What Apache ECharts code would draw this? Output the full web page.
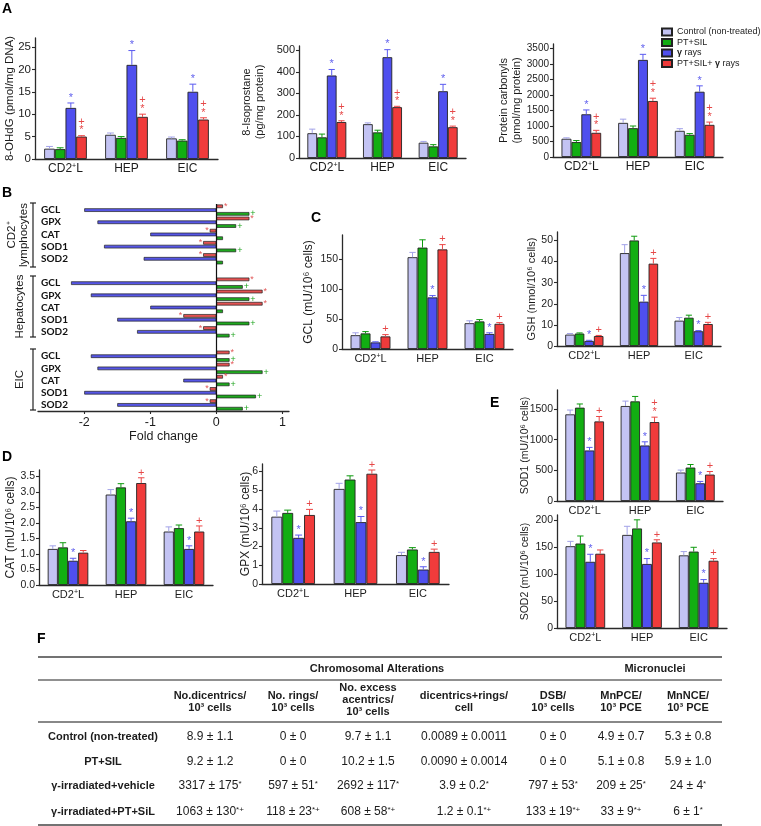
<!DOCTYPE html>
<html>
<head>
<meta charset="UTF-8">
<title>Oxidative damage, antioxidant enzymes and chromosomal alterations</title>
<script src="https://cdn.jsdelivr.net/npm/echarts@6/dist/echarts.min.js"></script>
<style>
html, body { margin: 0; padding: 0; background: #fff; }
#main { width: 761px; height: 826px; }
</style>
</head>
<body>
<div id="main"></div>
<script>
// ---------- data ----------
var groups = ['CD2+L', 'HEP', 'EIC'];
var seriesNames = ['Control (non-treated)', 'PT+SIL', 'γ rays', 'PT+SIL+ γ rays'];

// A: 8-OHdG (pmol/mg DNA)   rows = control, PT+SIL, γ rays, PT+SIL+γ rays
var ohdgMean = [[2.3, 5.4, 4.6], [2.2, 4.7, 4.1], [11.4, 21.0, 15.0], [5.0, 9.4, 8.8]];
var ohdgErr  = [[0.5, 0.4, 0.3], [0.3, 0.3, 0.2], [1.1, 3.2, 1.7], [0.2, 0.6, 0.4]];
var ohdgStar = ['*', '*', '*'];
var ohdgSig  = ['+*', '+*', '+*'];

// A: 8-isoprostane (pg/mg protein)
var isoMean = [[115, 157, 71], [96, 119, 54], [383, 468, 310], [167, 236, 143]];
var isoErr  = [[19, 6, 6], [15, 10, 8], [28, 35, 32], [6, 4, 5]];
var isoStar = ['*', '*', '*'];
var isoSig  = ['+*', '+*', '+*'];

// A: protein carbonyls (pmol/mg protein)
var carbMean = [[589, 1102, 845], [482, 931, 717], [1380, 3136, 2108], [781, 1809, 1038]];
var carbErr  = [[30, 120, 70], [50, 70, 40], [140, 180, 190], [80, 90, 90]];
var carbStar = ['*', '*', '*'];
var carbSig  = ['+*', '+*', '+*'];

// C: GCL (mU/10^6 cells)
var gclMean = [[23, 153, 43], [26, 169, 46], [11, 86, 25], [21, 166, 42]];
var gclErr  = [[4, 8, 4], [3, 13, 3], [1, 3, 2], [3, 8, 2]];
var gclStar = ['', '*', '*'];
var gclSig  = ['+', '+', '+'];

// C: GSH (nmol/10^6 cells)
var gshMean = [[5.4, 44, 12], [5.9, 50, 13.4], [2.4, 21, 7], [4.7, 39, 10.4]];
var gshErr  = [[0.5, 4, 1.5], [0.3, 2, 1.2], [0.3, 3, 0.3], [0.3, 2.5, 0.8]];
var gshStar = ['*', '*', '*'];
var gshSig  = ['+', '+', '+'];

// D: CAT (mU/10^6 cells)
var catMean = [[1.16, 2.91, 1.72], [1.21, 3.14, 1.83], [0.78, 2.05, 1.16], [1.04, 3.28, 1.72]];
var catErr  = [[0.1, 0.16, 0.15], [0.15, 0.12, 0.1], [0.08, 0.1, 0.1], [0.07, 0.17, 0.18]];
var catStar = ['*', '*', '*'];
var catSig  = ['', '+', '+'];

// D: GPX (mU/10^6 cells)
var gpxMean = [[3.59, 5.07, 1.54], [3.79, 5.57, 1.84], [2.46, 3.3, 0.77], [3.68, 5.88, 1.71]];
var gpxErr  = [[0.3, 0.3, 0.15], [0.15, 0.2, 0.1], [0.15, 0.3, 0.15], [0.3, 0.2, 0.15]];
var gpxStar = ['*', '*', '*'];
var gpxSig  = ['+', '+', '+'];

// E: SOD1 (mU/10^6 cells)
var sod1Mean = [[1413, 1549, 464], [1522, 1625, 545], [824, 905, 289], [1298, 1287, 431]];
var sod1Err  = [[70, 80, 40], [60, 80, 50], [50, 60, 30], [80, 80, 50]];
var sod1Star = ['*', '*', '*'];
var sod1Sig  = ['+', '+*', '+'];

// E: SOD2 (mU/10^6 cells)
var sod2Mean = [[152, 173, 135], [157, 185, 142], [123, 119, 84], [138, 159, 125]];
var sod2Err  = [[9, 16, 7], [14, 16, 8], [14, 10, 6], [7, 5, 4]];
var sod2Star = ['*', '*', '*'];
var sod2Sig  = ['', '+', '+'];

// B: fold change (gap slots between cell types are empty)
var bSlots   = ['GCL', 'GPX', 'CAT', 'SOD1', 'SOD2', '', 'GCL', 'GPX', 'CAT', 'SOD1', 'SOD2', '', 'GCL', 'GPX', 'CAT', 'SOD1', 'SOD2'];
var bBoth    = [0.1, 0.5, -0.1, -0.2, -0.2, null, 0.5, 0.7, 0.7, -0.5, -0.2, null, 0.2, 0.2, 0.1, -0.1, -0.1];
var bRays    = [-2.0, -1.8, -1.0, -1.7, -1.1, null, -2.2, -1.9, -1.0, -1.5, -1.2, null, -1.9, -1.8, -0.5, -2.0, -1.5];
var bSil     = [0.5, 0.3, 0.1, 0.3, 0.1, null, 0.4, 0.5, 0.1, 0.5, 0.2, null, 0.2, 0.7, 0.2, 0.6, 0.4];
var bSilMark = ['+', '+', '', '+', '', '', '+', '+', '', '+', '+', '', '+', '+', '+', '+', '+'];
var bCellTypes = ['CD2⁺\nlymphocytes', 'Hepatocytes', 'EIC'];
var foldTicks = [-2, -1, 0, 1];

// F: table
var tableGroups = ['Chromosomal Alterations', 'Micronuclei'];
var tableCols = ['No.dicentrics/\n10³ cells', 'No. rings/\n10³ cells', 'No. excess\nacentrics/\n10³ cells',
  'dicentrics+rings/\ncell', 'DSB/\n10³ cells', 'MnPCE/\n10³ PCE', 'MnNCE/\n10³ PCE'];
var tableRowNames = ['Control (non-treated)', 'PT+SIL', 'γ-irradiated+vehicle', 'γ-irradiated+PT+SiL'];
var tableRows = [
  ['8.9 ± 1.1', '0 ± 0', '9.7 ± 1.1', '0.0089 ± 0.0011', '0 ± 0', '4.9 ± 0.7', '5.3 ± 0.8'],
  ['9.2 ± 1.2', '0 ± 0', '10.2 ± 1.5', '0.0090 ± 0.0014', '0 ± 0', '5.1 ± 0.8', '5.9 ± 1.0'],
  ['3317 ± 175*', '597 ± 51*', '2692 ± 117*', '3.9 ± 0.2*', '797 ± 53*', '209 ± 25*', '24 ± 4*'],
  ['1063 ± 130*+', '118 ± 23*+', '608 ± 58*+', '1.2 ± 0.1*+', '133 ± 19*+', '33 ± 9*+', '6 ± 1*']
];

// ---------- styling ----------
var FONT = '"Liberation Sans", Arial, Helvetica, sans-serif';
var AX = '#2a2a2a';
var TXT = '#1c1c1c';
var barColors = ['#c3c3f3', '#12ae12', '#4f4fee', '#f03b3b'];
var errColors = ['#a2a2e8', '#0d9a0d', '#5a5af0', '#ec4646'];
var markColors = ['', '', '#6262ee', '#e64848'];

var chart = echarts.init(document.getElementById('main'), null, {renderer: 'canvas'});

var option = {
  animation: false,
  backgroundColor: '#fff',
  textStyle: {fontFamily: FONT},
  legend: {
    data: seriesNames,
    orient: 'vertical',
    left: 656, top: 22,
    itemWidth: 10, itemHeight: 7, itemGap: 0.5,
    icon: 'rect',
    textStyle: {fontSize: 9, color: TXT, fontFamily: FONT, lineHeight: 10,
      rich: {g: {fontSize: 9, fontWeight: 'bold', color: TXT, fontFamily: FONT}}},
    formatter: function (n) { return n.replace('γ', '{g|γ}'); },
    selectedMode: false
  },
  grid: [], xAxis: [], yAxis: [], series: [], graphic: []
};

function catLabel(fs) {
  return {
    fontSize: fs, color: TXT, margin: 4, interval: 0, hideOverlap: false,
    formatter: function (v) { return v === 'CD2+L' ? '{n|CD2}{s|+}{n|L}' : '{n|' + v + '}'; },
    rich: {
      n: {fontSize: fs, color: TXT, fontFamily: FONT},
      s: {fontSize: Math.round(fs * 0.62), color: TXT, fontFamily: FONT, verticalAlign: 'top'}
    }
  };
}

function makeErrRender(marks) {
  return function (params, api) {
    var c = api.value(0), s = api.value(1), m = api.value(2), e = api.value(3);
    var band = api.size([1, 0])[0];
    var bw = band * 0.7 / 4;
    var cx = api.coord([c, 0])[0] - band * 0.35 + bw * (s + 0.5);
    var y0 = api.coord([c, m])[1];
    var y1 = api.coord([c, m + e])[1];
    var half = bw * 0.32;
    var kids = [
      {type: 'line', shape: {x1: cx, y1: y0, x2: cx, y2: y1}, style: {stroke: errColors[s], lineWidth: 1}},
      {type: 'line', shape: {x1: cx - half, y1: y1, x2: cx + half, y2: y1}, style: {stroke: errColors[s], lineWidth: 1}}
    ];
    var mk = marks[params.dataIndex];
    if (mk) {
      kids.push({
        type: 'text', x: cx, y: y1 - 1,
        style: {text: mk.split('').join('\n'), fill: markColors[s], fontSize: 11, fontFamily: FONT,
          lineHeight: 8.5, align: 'center', verticalAlign: 'bottom'}
      });
    }
    return {type: 'group', children: kids};
  };
}

function addBarPanel(p) {
  var gi = option.grid.length;
  option.grid.push({left: p.box[0], top: p.box[1], width: p.box[2], height: p.box[3]});
  option.xAxis.push({
    type: 'category', gridIndex: gi, data: groups,
    axisLine: {lineStyle: {color: AX, width: 1.3}},
    axisTick: {show: false},
    axisLabel: catLabel(p.catFs)
  });
  option.yAxis.push({
    type: 'value', gridIndex: gi, min: 0, max: p.max,
    splitLine: {show: false},
    axisLine: {show: true, lineStyle: {color: AX, width: 1.3}},
    axisTick: {show: true, length: 3, customValues: p.ticks, lineStyle: {color: AX, width: 1.1}},
    axisLabel: {customValues: p.ticks, fontSize: p.tickFs, color: TXT, margin: 4,
      formatter: p.fmt || function (v) { return String(v); }},
    name: p.name, nameLocation: 'middle', nameGap: p.nameGap, nameMoveOverlap: false,
    nameTextStyle: {fontSize: p.nameFs, color: TXT, lineHeight: p.nameFs + 2}
  });
  p.mean.forEach(function (vals, s) {
    option.series.push({
      name: seriesNames[s], type: 'bar', xAxisIndex: gi, yAxisIndex: gi, data: vals,
      barGap: '0%', barCategoryGap: '30%',
      itemStyle: {color: barColors[s], borderColor: '#222', borderWidth: 0.9},
      emphasis: {disabled: true}
    });
  });
  var errData = [], marks = [];
  p.mean.forEach(function (vals, s) {
    vals.forEach(function (v, c) {
      errData.push([c, s, v, p.err[s][c]]);
      marks.push(s === 2 ? p.star[c] : (s === 3 ? p.sig[c] : ''));
    });
  });
  option.series.push({
    type: 'custom', xAxisIndex: gi, yAxisIndex: gi, data: errData, z: 4, silent: true,
    encode: {x: 0, y: 2}, renderItem: makeErrRender(marks)
  });
}

function range(a, b, st) { var r = []; for (var v = a; v <= b + 1e-9; v += st) r.push(Math.round(v * 100) / 100); return r; }

// ---------- panel A ----------
addBarPanel({box: [35, 38, 183, 121], max: 27, ticks: range(0, 25, 5), tickFs: 11.5, catFs: 12,
  name: '8-OHdG (pmol/mg DNA)', nameGap: 18, nameFs: 11.5,
  mean: ohdgMean, err: ohdgErr, star: ohdgStar, sig: ohdgSig});
addBarPanel({box: [299, 46, 167, 112], max: 520, ticks: range(0, 500, 100), tickFs: 11, catFs: 12,
  name: '8-Isoprostane\n(pg/mg protein)', nameGap: 33, nameFs: 11,
  mean: isoMean, err: isoErr, star: isoStar, sig: isoSig});
addBarPanel({box: [553, 44, 170, 113], max: 3650, ticks: range(0, 3500, 500), tickFs: 10, catFs: 12,
  name: 'Protein carbonyls\n(pmol/mg protein)', nameGap: 30, nameFs: 11,
  mean: carbMean, err: carbErr, star: carbStar, sig: carbSig});

// ---------- panel C ----------
addBarPanel({box: [342, 235, 171, 114], max: 190, ticks: range(0, 150, 50), tickFs: 10.5, catFs: 11,
  name: 'GCL (mU/10⁶ cells)', nameGap: 26, nameFs: 12,
  mean: gclMean, err: gclErr, star: gclStar, sig: gclSig});
addBarPanel({box: [557, 232, 164, 114], max: 54, ticks: range(0, 50, 10), tickFs: 10.5, catFs: 11,
  name: 'GSH (nmol/10⁶ cells)', nameGap: 19, nameFs: 11,
  mean: gshMean, err: gshErr, star: gshStar, sig: gshSig});

// ---------- panel D ----------
addBarPanel({box: [39, 470, 174, 115], max: 3.7, ticks: range(0, 3.5, 0.5), tickFs: 10.5, catFs: 11,
  fmt: function (v) { return v.toFixed(1); },
  name: 'CAT (mU/10⁶ cells)', nameGap: 21, nameFs: 12,
  mean: catMean, err: catErr, star: catStar, sig: catSig});
addBarPanel({box: [262, 464, 187, 120], max: 6.4, ticks: range(0, 6, 1), tickFs: 10.5, catFs: 11,
  name: 'GPX (mU/10⁶ cells)', nameGap: 9, nameFs: 12,
  mean: gpxMean, err: gpxErr, star: gpxStar, sig: gpxSig});

// ---------- panel E ----------
addBarPanel({box: [557, 390, 166, 111], max: 1810, ticks: range(0, 1500, 500), tickFs: 10.5, catFs: 11,
  name: 'SOD1 (mU/10⁶ cells)', nameGap: 26, nameFs: 10.5,
  mean: sod1Mean, err: sod1Err, star: sod1Star, sig: sod1Sig});
addBarPanel({box: [557, 515, 170, 113], max: 210, ticks: range(0, 200, 50), tickFs: 10.5, catFs: 11,
  name: 'SOD2 (mU/10⁶ cells)', nameGap: 26, nameFs: 10.5,
  mean: sod2Mean, err: sod2Err, star: sod2Star, sig: sod2Sig});

// ---------- panel B ----------
(function () {
  var gi = option.grid.length;
  option.grid.push({left: 38, top: 204, width: 251, height: 207});
  option.xAxis.push({
    type: 'value', gridIndex: gi, min: -2.7, max: 1.1,
    splitLine: {show: false},
    axisLine: {show: true, onZero: false, lineStyle: {color: AX, width: 1.3}},
    axisTick: {show: true, length: 3, customValues: foldTicks, lineStyle: {color: AX, width: 1.1}},
    axisLabel: {customValues: foldTicks, fontSize: 12.5, color: TXT, margin: 5},
    name: 'Fold change', nameLocation: 'middle', nameGap: 19, nameMoveOverlap: false,
    nameTextStyle: {fontSize: 12.5, color: TXT}
  });
  option.yAxis.push({
    type: 'category', gridIndex: gi, data: bSlots, inverse: true,
    axisLine: {show: false}, axisTick: {show: false},
    axisLabel: {inside: true, margin: 3, interval: 0, hideOverlap: false, fontSize: 10, fontWeight: 'bold', color: '#111',
      fontFamily: 'Lato, "Liberation Sans", sans-serif'}
  });
  function items(vals) {
    return vals.map(function (v) {
      return v === null ? null : {value: v, label: {position: v < 0 ? 'left' : 'right'}};
    });
  }
  var common = {type: 'bar', xAxisIndex: gi, yAxisIndex: gi, barWidth: 3.6, barGap: '5%',
    emphasis: {disabled: true}};
  option.series.push(Object.assign({}, common, {
    name: 'B PT+SIL+γ', data: items(bBoth),
    itemStyle: {color: '#e25252', borderColor: '#222', borderWidth: 0.7},
    label: {show: true, formatter: '*', distance: 1, fontSize: 9, color: '#e25a5a'}
  }));
  option.series.push(Object.assign({}, common, {
    name: 'B γ', data: items(bRays),
    itemStyle: {color: '#5656e6', borderColor: '#222', borderWidth: 0.7},
    markLine: {silent: true, symbol: ['none', 'none'], label: {show: false},
      lineStyle: {color: '#111', width: 1.2, type: 'solid'}, data: [{xAxis: 0}]}
  }));
  option.series.push(Object.assign({}, common, {
    name: 'B PT+SIL', data: items(bSil),
    itemStyle: {color: '#1fa81f', borderColor: '#222', borderWidth: 0.7},
    label: {show: true, distance: 1, fontSize: 9, color: '#22a622',
      formatter: function (p) { return bSilMark[p.dataIndex]; }}
  }));
})();

// ---------- decorations: panel letters, B brackets, table ----------
var g = option.graphic;
function txt(x, y, s, st, extra) {
  var o = {type: 'text', x: x, y: y, silent: true,
    style: Object.assign({text: s, fill: TXT, fontFamily: FONT, fontSize: 11, align: 'center', verticalAlign: 'middle'}, st)};
  return Object.assign(o, extra || {});
}
function hline(x1, x2, y, w, c) {
  return {type: 'line', silent: true, shape: {x1: x1, y1: y, x2: x2, y2: y}, style: {stroke: c, lineWidth: w}};
}

[['A', 2, 2], ['B', 2, 186], ['C', 311, 211], ['D', 2, 450], ['E', 490, 396], ['F', 37, 632]].forEach(function (l) {
  g.push(txt(l[1], l[2], l[0], {fontSize: 14, fontWeight: 'bold', fill: '#000', align: 'left', verticalAlign: 'top'}));
});

// B brackets and cell type labels
[[203, 267], [276, 337], [349, 410]].forEach(function (b, i) {
  g.push({type: 'line', silent: true, shape: {x1: 33, y1: b[0], x2: 33, y2: b[1]}, style: {stroke: '#222', lineWidth: 1.2}});
  g.push(hline(30, 36, b[0], 1.2, '#222'));
  g.push(hline(30, 36, b[1], 1.2, '#222'));
  g.push(txt(i === 0 ? 18 : 20, (b[0] + b[1]) / 2, bCellTypes[i], {fontSize: 11.5, lineHeight: 12.5}, {rotation: Math.PI / 2}));
});

// table F
var colX = [210, 293, 368, 464, 553, 621, 688];
g.push(hline(38, 722, 657, 1.6, '#444'));
g.push(hline(38, 722, 680, 1.2, '#222'));
g.push(hline(38, 722, 722, 2, '#888'));
g.push(hline(38, 722, 825, 1.6, '#444'));
g.push(txt(377, 669, tableGroups[0], {fontWeight: 'bold', fontSize: 11}));
g.push(txt(655, 669, tableGroups[1], {fontWeight: 'bold', fontSize: 11}));
tableCols.forEach(function (h, i) {
  var n = h.split('\n').length;
  g.push(txt(colX[i], n === 3 ? 700 : 702, h, {fontWeight: 'bold', fontSize: 11, lineHeight: 12}));
});
var rowY = [737, 762, 786, 812];
function supFmt(s) {
  var m = s.match(/^(.*?)([*+]+)$/);
  return m ? '{v|' + m[1] + '}{s|' + m[2] + '}' : '{v|' + s + '}';
}
tableRowNames.forEach(function (r, ri) {
  g.push(txt(103, rowY[ri], r, {fontWeight: 'bold', fontSize: 11}));
  tableRows[ri].forEach(function (v, ci) {
    g.push(txt(colX[ci], rowY[ri], supFmt(v), {
      rich: {
        v: {fontSize: 12, fontFamily: FONT, fill: TXT},
        s: {fontSize: 8, fontFamily: FONT, fill: TXT, verticalAlign: 'top'}
      }
    }));
  });
});

chart.setOption(option);
</script>
</body>
</html>
